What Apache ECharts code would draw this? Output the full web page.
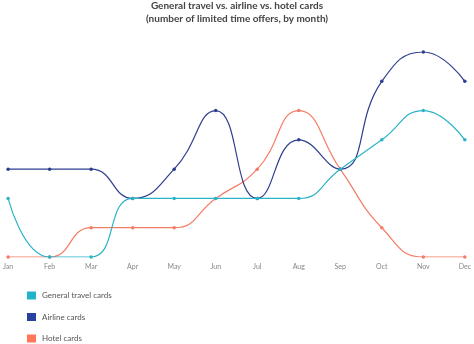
<!DOCTYPE html>
<html><head><meta charset="utf-8">
<script src="https://cdn.jsdelivr.net/npm/echarts@6/dist/echarts.min.js"></script>
<style>html,body{margin:0;padding:0;background:#fff}#c{width:474px;height:344px}</style>
</head><body><div id="c"></div>
<script>
const months = ['Jan','Feb','Mar','Apr','May','Jun','Jul','Aug','Sep','Oct','Nov','Dec'];
const generalTravel = [2,0,0,2,2,2,2,2,3,4,5,4];
const airline = [3,3,3,2,3,5,2,4,3,6,7,6];
const hotel = [0,0,1,1,1,2,3,5,3,1,0,0];
const colors = ['#2cb3c6','#2e3f8f','#f47d66'];
const legendColors = ['#22b3cb','#2a41a0','#ff7658'];
const chart = echarts.init(document.getElementById('c'));
function s(name, data, i){
  return {name, type:'line', data, smooth:0.5, symbol:'circle', symbolSize:3.5,
    lineStyle:{color:colors[i], width:1.2}, itemStyle:{color:colors[i]}, z: 3-i};
}
chart.setOption({
  animation:false,
  title:{text:'General travel vs. airline vs. hotel cards\n(number of limited time offers, by month)',
    left:'center', top:-1, padding:0,
    textStyle:{fontFamily:'Lato', fontWeight:'bold', fontSize:10, color:'#444', lineHeight:13.5}},
  legend:{orient:'vertical', left:27, top:290, padding:0, itemWidth:9, itemHeight:8, itemGap:10.5,
    icon:'rect', height:80,
    data:[{name:'General travel cards', itemStyle:{color:legendColors[0]}},
          {name:'Airline cards', itemStyle:{color:legendColors[1]}},
          {name:'Hotel cards', itemStyle:{color:legendColors[2]}}],
    textStyle:{fontFamily:'Lato', fontSize:8, lineHeight:11, color:'#555', padding:[0,0,0,1]}},
  grid:{left:6, right:8, top:52, bottom:87},
  xAxis:{type:'category', data:months, boundaryGap:false,
    axisLine:{show:false}, axisTick:{show:false},
    axisLabel:{color:'#888', fontSize:7, fontFamily:'Lato', margin:6, interval:0}},
  yAxis:{type:'value', min:0, max:7, interval:1, show:false, splitLine:{show:false}},
  series:[s('General travel cards', generalTravel,0), s('Airline cards', airline,1), s('Hotel cards', hotel,2)]
});
</script></body></html>
